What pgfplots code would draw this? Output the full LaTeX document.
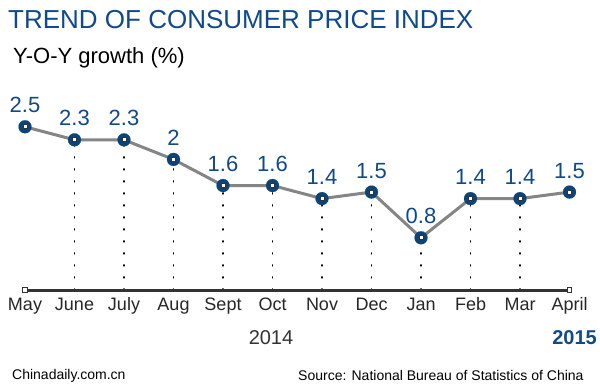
\documentclass[border=0pt]{standalone}
\usepackage{pgfplots}
\pgfplotsset{compat=1.18}
\usepackage{fontspec}
\setmainfont{Liberation Sans}
\definecolor{titleblue}{HTML}{104A8A}
\definecolor{markblue}{HTML}{0C4477}
\definecolor{linegray}{HTML}{858585}
\definecolor{axisdark}{HTML}{333333}
\begin{document}
\begin{tikzpicture}[x=1bp,y=1bp]
\path[use as bounding box, fill=white] (0,0) rectangle (600,391);
\begin{axis}[
  at={(0.25bp,101bp)}, anchor=south west,
  scale only axis, width=594bp, height=182.8bp,
  xmin=-0.5, xmax=11.5, ymin=0, ymax=2.8,
  clip=false,
  axis y line=none,
  axis x line*=bottom,
  x axis line style={draw=none},
  xtick style={draw=none},
  ytick=\empty,
  xtick={0,1,2,3,4,5,6,7,8,9,10,11},
  xticklabels={May,June,July,Aug,Sept,Oct,Nov,Dec,Jan,Feb,Mar,April},
  xticklabel style={font=\fontsize{18bp}{21bp}\selectfont, text=black!85, anchor=base, yshift=-20bp},
  /pgf/number format/assume math mode=true,
]
% dotted drop lines
\addplot[ycomb, black, line width=1.2bp, dash pattern=on 1.2bp off 10.8bp, line cap=round, mark=none]
  coordinates {(1,2.3)(2,2.3)(3,2.0)(4,1.6)(5,1.6)(6,1.4)(7,1.5)(8,0.8)(9,1.4)(10,1.4)};
% baseline axis
\addplot[axisdark, line width=3bp, mark=square*, mark size=2.2bp, mark options={fill=white, draw=axisdark, line width=0.8bp}]
  coordinates {(0,0)(11,0)};
% main series
\addplot[linegray, line width=3bp, mark=*, mark size=6.5bp,
  mark options={fill=markblue, draw=markblue, line width=0.1bp},
  nodes near coords={\pgfmathprintnumber{\pgfplotspointmeta}},
  every node near coord/.append style={font=\fontsize{22bp}{26bp}\selectfont, text=titleblue, anchor=base, yshift=14bp}]
  coordinates {(0,2.5)(1,2.3)(2,2.3)(3,2.0)(4,1.6)(5,1.6)(6,1.4)(7,1.5)(8,0.8)(9,1.4)(10,1.4)(11,1.5)};
\addplot[only marks, mark=square*, mark size=2bp, mark options={fill=white, draw=black!80, line width=0.8bp}]
  coordinates {(0,2.5)(1,2.3)(2,2.3)(3,2.0)(4,1.6)(5,1.6)(6,1.4)(7,1.5)(8,0.8)(9,1.4)(10,1.4)(11,1.5)};
\end{axis}
\node[anchor=base west, inner sep=0, text=titleblue, font=\fontsize{26bp}{30bp}\selectfont] at (8,363) {TREND OF CONSUMER PRICE INDEX};
\node[anchor=base west, inner sep=0, text=black, font=\fontsize{22bp}{26bp}\selectfont] at (13,328) {Y-O-Y growth (\%)};
\node[anchor=base, inner sep=0, text=black!80, font=\fontsize{20bp}{24bp}\selectfont] at (271,47) {2014};
\node[anchor=base, inner sep=0, text=titleblue, font=\fontsize{20bp}{24bp}\selectfont\bfseries] at (574.5,47) {2015};
\node[anchor=base west, inner sep=0, text=black, font=\fontsize{14bp}{17bp}\selectfont] at (12,12) {Chinadaily.com.cn};
\node[anchor=base west, inner sep=0, text=black, font=\fontsize{14bp}{17bp}\selectfont] at (298,11) {Source: National Bureau of Statistics of China};
\end{tikzpicture}
\end{document}
